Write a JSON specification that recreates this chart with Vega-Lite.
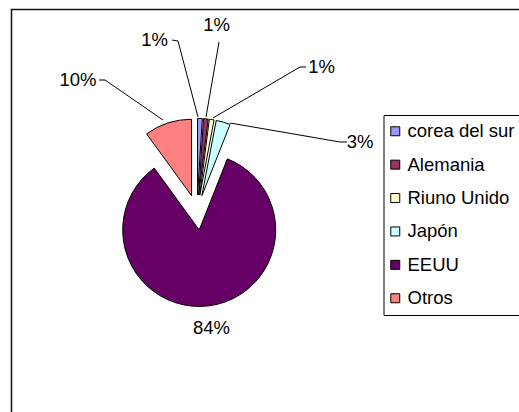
{
  "$schema": "https://vega.github.io/schema/vega-lite/v6.json",
  "width": 511,
  "height": 406,
  "autosize": {"type": "none"},
  "padding": {"left": 11.5, "top": 9.5, "right": -3.5, "bottom": -3.5},
  "background": "white",
  "config": {"view": {"stroke": "#111111", "strokeWidth": 1.5}, "font": "Liberation Sans"},
  "data": {"values": [
    {"pais": "corea del sur", "valor": 1},
    {"pais": "Alemania", "valor": 1},
    {"pais": "Riuno Unido", "valor": 1},
    {"pais": "Japón", "valor": 3},
    {"pais": "EEUU", "valor": 84},
    {"pais": "Otros", "valor": 10}
  ]},
  "transform": [
    {"window": [{"op": "row_number", "as": "idx"}]},
    {"window": [{"op": "sum", "field": "valor", "as": "fin"}], "sort": [{"field": "idx"}], "frame": [null, 0]},
    {"calculate": "datum.fin - datum.valor", "as": "inicio"},
    {"calculate": "(datum.inicio + datum.fin) / 100 * PI", "as": "medio"},
    {"calculate": "17.6 * sin(datum.medio)", "as": "ex"},
    {"calculate": "-17.6 * cos(datum.medio)", "as": "ey"},
    {"calculate": "format(datum.valor / 100, '.0%')", "as": "etiqueta"}
  ],
  "layer": [
    {
      "mark": {"type": "arc", "radius": 76.5, "stroke": "black", "strokeWidth": 1},
      "encoding": {
        "x": {"field": "ex", "type": "quantitative", "scale": {"domain": [-185.5, 325.5], "nice": false, "zero": false}, "axis": null},
        "y": {"field": "ey", "type": "quantitative", "scale": {"domain": [-203, 203], "nice": false, "zero": false, "reverse": true}, "axis": null},
        "theta": {"field": "inicio", "type": "quantitative", "stack": null, "scale": {"domain": [0, 100], "range": [0, 6.283185307]}},
        "theta2": {"field": "fin"},
        "color": {
          "field": "pais", "type": "nominal",
          "scale": {"domain": ["corea del sur", "Alemania", "Riuno Unido", "Japón", "EEUU", "Otros"],
                    "range": ["#9999FF", "#993366", "#FFFFCC", "#CCFFFF", "#660066", "#FF8080"]},
          "legend": {
            "orient": "none", "legendX": 372, "legendY": 105.5, "title": null,
            "strokeColor": "black", "fillColor": "white", "padding": 7,
            "labelFontSize": 18.5, "labelFont": "Liberation Sans", "labelColor": "black", "labelLimit": 0,
            "labelOffset": 3, "symbolOffset": -4.5, "symbolType": "square", "symbolSize": 81,
            "symbolStrokeColor": "black", "symbolStrokeWidth": 1, "symbolOpacity": 1,
            "rowPadding": 14.4, "columns": 1
          }
        }
      }
    },
    {
      "transform": [{"filter": "datum.pais === 'corea del sur'"}],
      "mark": {"type": "text", "fontSize": 18.5, "font": "Liberation Sans", "color": "black", "align": "center", "baseline": "middle"},
      "encoding": {
        "x": {"datum": -42.5, "type": "quantitative", "scale": {"domain": [-185.5, 325.5], "nice": false, "zero": false}, "axis": null},
        "y": {"datum": -172.5, "type": "quantitative", "scale": {"domain": [-203, 203], "nice": false, "zero": false, "reverse": true}, "axis": null},
        "text": {"field": "etiqueta"}
      }
    },
    {
      "transform": [{"filter": "datum.pais === 'Alemania'"}],
      "mark": {"type": "text", "fontSize": 18.5, "font": "Liberation Sans", "color": "black", "align": "center", "baseline": "middle"},
      "encoding": {
        "x": {"datum": 19.5, "type": "quantitative", "scale": {"domain": [-185.5, 325.5], "nice": false, "zero": false}, "axis": null},
        "y": {"datum": -187.5, "type": "quantitative", "scale": {"domain": [-203, 203], "nice": false, "zero": false, "reverse": true}, "axis": null},
        "text": {"field": "etiqueta"}
      }
    },
    {
      "transform": [{"filter": "datum.pais === 'Riuno Unido'"}],
      "mark": {"type": "text", "fontSize": 18.5, "font": "Liberation Sans", "color": "black", "align": "center", "baseline": "middle"},
      "encoding": {
        "x": {"datum": 124.5, "type": "quantitative", "scale": {"domain": [-185.5, 325.5], "nice": false, "zero": false}, "axis": null},
        "y": {"datum": -145.5, "type": "quantitative", "scale": {"domain": [-203, 203], "nice": false, "zero": false, "reverse": true}, "axis": null},
        "text": {"field": "etiqueta"}
      }
    },
    {
      "transform": [{"filter": "datum.pais === 'Japón'"}],
      "mark": {"type": "text", "fontSize": 18.5, "font": "Liberation Sans", "color": "black", "align": "center", "baseline": "middle"},
      "encoding": {
        "x": {"datum": 163, "type": "quantitative", "scale": {"domain": [-185.5, 325.5], "nice": false, "zero": false}, "axis": null},
        "y": {"datum": -70.5, "type": "quantitative", "scale": {"domain": [-203, 203], "nice": false, "zero": false, "reverse": true}, "axis": null},
        "text": {"field": "etiqueta"}
      }
    },
    {
      "transform": [{"filter": "datum.pais === 'EEUU'"}],
      "mark": {"type": "text", "fontSize": 18.5, "font": "Liberation Sans", "color": "black", "align": "center", "baseline": "middle"},
      "encoding": {
        "x": {"datum": 14.5, "type": "quantitative", "scale": {"domain": [-185.5, 325.5], "nice": false, "zero": false}, "axis": null},
        "y": {"datum": 115.5, "type": "quantitative", "scale": {"domain": [-203, 203], "nice": false, "zero": false, "reverse": true}, "axis": null},
        "text": {"field": "etiqueta"}
      }
    },
    {
      "transform": [{"filter": "datum.pais === 'Otros'"}],
      "mark": {"type": "text", "fontSize": 18.5, "font": "Liberation Sans", "color": "black", "align": "center", "baseline": "middle"},
      "encoding": {
        "x": {"datum": -119, "type": "quantitative", "scale": {"domain": [-185.5, 325.5], "nice": false, "zero": false}, "axis": null},
        "y": {"datum": -132.5, "type": "quantitative", "scale": {"domain": [-203, 203], "nice": false, "zero": false, "reverse": true}, "axis": null},
        "text": {"field": "etiqueta"}
      }
    },
    {
      "transform": [{"filter": "datum.pais === 'corea del sur'"}],
      "mark": {"type": "rule", "color": "black", "strokeWidth": 1},
      "encoding": {
        "x": {"datum": -25, "type": "quantitative", "scale": {"domain": [-185.5, 325.5], "nice": false, "zero": false}, "axis": null},
        "y": {"datum": -172.5, "type": "quantitative", "scale": {"domain": [-203, 203], "nice": false, "zero": false, "reverse": true}, "axis": null},
        "x2": {"datum": -19}, "y2": {"datum": -171.5}
      }
    },
    {
      "transform": [{"filter": "datum.pais === 'corea del sur'"}],
      "mark": {"type": "rule", "color": "black", "strokeWidth": 1},
      "encoding": {
        "x": {"datum": -19, "type": "quantitative", "scale": {"domain": [-185.5, 325.5], "nice": false, "zero": false}, "axis": null},
        "y": {"datum": -171.5, "type": "quantitative", "scale": {"domain": [-203, 203], "nice": false, "zero": false, "reverse": true}, "axis": null},
        "x2": {"datum": 1}, "y2": {"datum": -95.5}
      }
    },
    {
      "transform": [{"filter": "datum.pais === 'Alemania'"}],
      "mark": {"type": "rule", "color": "black", "strokeWidth": 1},
      "encoding": {
        "x": {"datum": 22, "type": "quantitative", "scale": {"domain": [-185.5, 325.5], "nice": false, "zero": false}, "axis": null},
        "y": {"datum": -170.5, "type": "quantitative", "scale": {"domain": [-203, 203], "nice": false, "zero": false, "reverse": true}, "axis": null},
        "x2": {"datum": 9}, "y2": {"datum": -95.5}
      }
    },
    {
      "transform": [{"filter": "datum.pais === 'Riuno Unido'"}],
      "mark": {"type": "rule", "color": "black", "strokeWidth": 1},
      "encoding": {
        "x": {"datum": 109, "type": "quantitative", "scale": {"domain": [-185.5, 325.5], "nice": false, "zero": false}, "axis": null},
        "y": {"datum": -145.5, "type": "quantitative", "scale": {"domain": [-203, 203], "nice": false, "zero": false, "reverse": true}, "axis": null},
        "x2": {"datum": 103}, "y2": {"datum": -145.5}
      }
    },
    {
      "transform": [{"filter": "datum.pais === 'Riuno Unido'"}],
      "mark": {"type": "rule", "color": "black", "strokeWidth": 1},
      "encoding": {
        "x": {"datum": 103, "type": "quantitative", "scale": {"domain": [-185.5, 325.5], "nice": false, "zero": false}, "axis": null},
        "y": {"datum": -145.5, "type": "quantitative", "scale": {"domain": [-203, 203], "nice": false, "zero": false, "reverse": true}, "axis": null},
        "x2": {"datum": 16}, "y2": {"datum": -94.5}
      }
    },
    {
      "transform": [{"filter": "datum.pais === 'Japón'"}],
      "mark": {"type": "rule", "color": "black", "strokeWidth": 1},
      "encoding": {
        "x": {"datum": 150, "type": "quantitative", "scale": {"domain": [-185.5, 325.5], "nice": false, "zero": false}, "axis": null},
        "y": {"datum": -70.5, "type": "quantitative", "scale": {"domain": [-203, 203], "nice": false, "zero": false, "reverse": true}, "axis": null},
        "x2": {"datum": 143}, "y2": {"datum": -70.5}
      }
    },
    {
      "transform": [{"filter": "datum.pais === 'Japón'"}],
      "mark": {"type": "rule", "color": "black", "strokeWidth": 1},
      "encoding": {
        "x": {"datum": 143, "type": "quantitative", "scale": {"domain": [-185.5, 325.5], "nice": false, "zero": false}, "axis": null},
        "y": {"datum": -70.5, "type": "quantitative", "scale": {"domain": [-203, 203], "nice": false, "zero": false, "reverse": true}, "axis": null},
        "x2": {"datum": 33}, "y2": {"datum": -89.5}
      }
    },
    {
      "transform": [{"filter": "datum.pais === 'Otros'"}],
      "mark": {"type": "rule", "color": "black", "strokeWidth": 1},
      "encoding": {
        "x": {"datum": -98, "type": "quantitative", "scale": {"domain": [-185.5, 325.5], "nice": false, "zero": false}, "axis": null},
        "y": {"datum": -132.5, "type": "quantitative", "scale": {"domain": [-203, 203], "nice": false, "zero": false, "reverse": true}, "axis": null},
        "x2": {"datum": -92}, "y2": {"datum": -132.5}
      }
    },
    {
      "transform": [{"filter": "datum.pais === 'Otros'"}],
      "mark": {"type": "rule", "color": "black", "strokeWidth": 1},
      "encoding": {
        "x": {"datum": -92, "type": "quantitative", "scale": {"domain": [-185.5, 325.5], "nice": false, "zero": false}, "axis": null},
        "y": {"datum": -132.5, "type": "quantitative", "scale": {"domain": [-203, 203], "nice": false, "zero": false, "reverse": true}, "axis": null},
        "x2": {"datum": -34}, "y2": {"datum": -92.5}
      }
    }
  ]
}
